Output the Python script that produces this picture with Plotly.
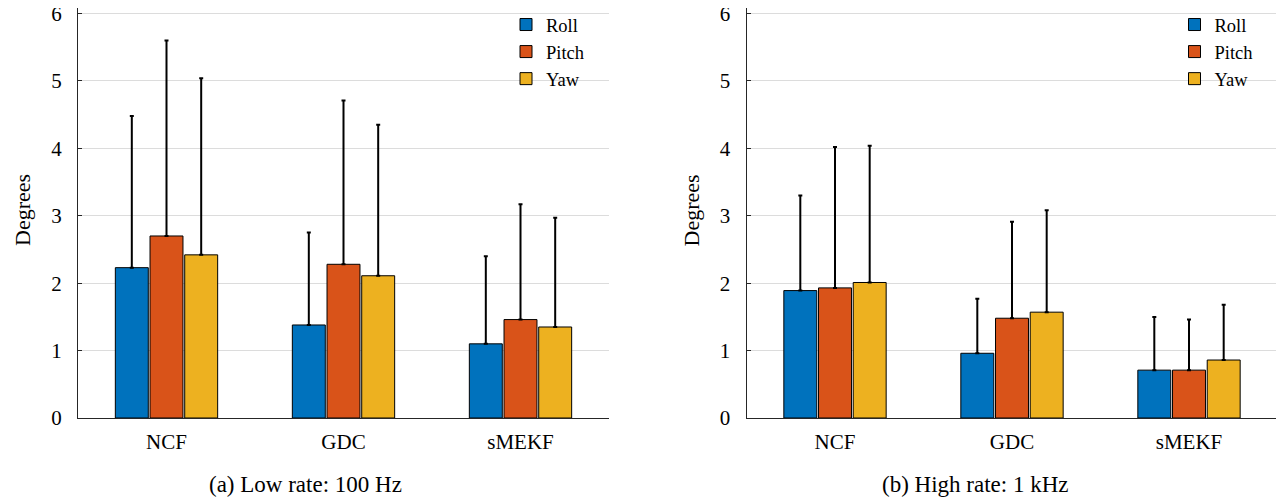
import plotly.graph_objects as go

categories = ["NCF", "GDC", "sMEKF"]
series_names = ["Roll", "Pitch", "Yaw"]

# Low rate: 100 Hz (mean and upward error)
low_roll = [2.23, 1.38, 1.10]
low_pitch = [2.70, 2.28, 1.46]
low_yaw = [2.42, 2.11, 1.35]
low_roll_err = [2.25, 1.37, 1.30]
low_pitch_err = [2.90, 2.43, 1.71]
low_yaw_err = [2.62, 2.24, 1.62]

# High rate: 1 kHz
high_roll = [1.89, 0.96, 0.71]
high_pitch = [1.93, 1.48, 0.71]
high_yaw = [2.01, 1.57, 0.86]
high_roll_err = [1.41, 0.81, 0.79]
high_pitch_err = [2.09, 1.43, 0.75]
high_yaw_err = [2.03, 1.51, 0.82]

y_ticks = [0, 1, 2, 3, 4, 5, 6]
captions = ["(a) Low rate: 100 Hz", "(b) High rate: 1 kHz"]
y_label = "Degrees"

colors = ["#0072BD", "#D95319", "#EDB120"]
FONT = "'Liberation Serif', 'Times New Roman', Times, 'DejaVu Serif', serif"
OFF = 8            # page body margin
W, H = 1284 - OFF, 504 - OFF
PH = 418 - OFF     # plot area height in px
MB = H - PH


def px(xref):
    return (xref - OFF) / W


def py(yref):
    return (PH - (yref - OFF)) / PH


fig = go.Figure()

panels = [
    ([low_roll, low_pitch, low_yaw], [low_roll_err, low_pitch_err, low_yaw_err], "x", "y", "legend"),
    ([high_roll, high_pitch, high_yaw], [high_roll_err, high_pitch_err, high_yaw_err], "x2", "y2", "legend2"),
]
for vals, errs, xa, ya, lg in panels:
    for name, v, e, c in zip(series_names, vals, errs, colors):
        fig.add_trace(go.Bar(
            x=categories, y=v, name=name, xaxis=xa, yaxis=ya, legend=lg,
            marker=dict(color=c, line=dict(color="#000000", width=1)),
            error_y=dict(type="data", array=e, arrayminus=[0] * len(e), symmetric=False,
                         color="#000000", thickness=2, width=2),
        ))

dom1 = [px(78), px(609)]
dom2 = [px(746.5), px(1277.5)]
ytop = 6 + (13.5 - OFF) / 67.35

xcommon = dict(type="category", range=[-0.5, 2.5], showline=True, linecolor="#262626",
               linewidth=1, showgrid=False, ticks="", ticklabelstandoff=5,
               tickfont=dict(family=FONT, size=21, color="#000000"), fixedrange=True)
ycommon = dict(range=[0, ytop], tickvals=y_ticks, showline=True, linecolor="#262626",
               linewidth=1, showgrid=True, gridcolor="#dcdcdc", gridwidth=1,
               ticks="inside", ticklen=4, tickcolor="#262626", zeroline=False,
               ticklabelstandoff=11, ticklabeloverflow="allow",
               tickfont=dict(family=FONT, size=21, color="#000000"))

legcommon = dict(bgcolor="rgba(0,0,0,0)", borderwidth=0, yanchor="top", xanchor="left",
                 font=dict(family=FONT, size=18.5, color="#000000"), tracegroupgap=0)

fig.update_layout(
    width=W, height=H,
    margin=dict(l=0, r=0, t=0, b=MB, autoexpand=False),
    paper_bgcolor="white", plot_bgcolor="white",
    font=dict(family=FONT, color="#000000"),
    barmode="group", bargap=0.412, bargroupgap=0.05,
    xaxis=dict(domain=dom1, anchor="y", automargin=False, **xcommon),
    yaxis=dict(domain=[0, 1], anchor="x", automargin=False, **ycommon),
    xaxis2=dict(domain=dom2, anchor="y2", automargin=False, **xcommon),
    yaxis2=dict(domain=[0, 1], anchor="x2", automargin=False, **ycommon),
    legend=dict(x=px(506), y=py(6), **legcommon),
    legend2=dict(x=px(506 + 668.5), y=py(6), **legcommon),
    showlegend=True,
)

for xpix in [22, 22 + 668.5]:
    fig.add_annotation(text=y_label, xref="paper", yref="paper", x=px(xpix), y=py(210),
                       textangle=-90, showarrow=False, xanchor="center", yanchor="middle",
                       font=dict(family=FONT, size=22, color="#000000"))
for cap, cap_x in zip(captions, [305, 975]):
    fig.add_annotation(text=cap, xref="paper", yref="paper", x=px(cap_x), y=py(485),
                       showarrow=False, xanchor="center", yanchor="middle",
                       font=dict(family=FONT, size=23, color="#000000"))

fig.write_html("out.html")
